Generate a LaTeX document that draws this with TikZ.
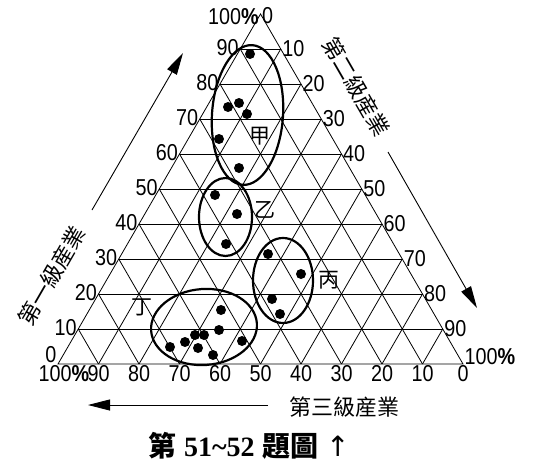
\documentclass[tikz,border=0pt]{standalone}
\usepackage{fontspec}
\setmainfont{Liberation Sans}
\newfontfamily\numf[FakeStretch=0.86]{Liberation Sans}
\newfontfamily\cjk{Noto Sans CJK TC}
\newfontfamily\capser{Liberation Serif}
\newfontfamily\arrowf{DejaVu Sans}
\usetikzlibrary{calc,arrows.meta}
\begin{document}
\begin{tikzpicture}[x=1pt,y=-1pt,
  grid/.style={line width=0.8pt},
  ring/.style={line width=2.2pt},
  dot/.style={circle,fill,inner sep=0pt,minimum size=10pt},
  num/.style={font=\numf\fontsize{23}{23}\selectfont, inner sep=1.5pt},
  axtitle/.style={font=\cjk\fontsize{22}{22}\selectfont, inner sep=0pt},
  zone/.style={font=\cjk\fontsize{21}{21}\selectfont, inner sep=0pt},
  axarrow/.style={line width=0.9pt,-{Triangle[length=22pt,width=11pt]}}]
\useasboundingbox (0,0) rectangle (535,460);
\coordinate (A) at (58,364);
\coordinate (B) at (463,364);
\coordinate (C) at (260.5,14);
% grid
\draw[grid] (A)--(B)--(C)--cycle;
\foreach \k in {1,...,9}{
  \pgfmathsetmacro\f{\k/10}
  \pgfmathsetmacro\g{1-\k/10}
  \draw[grid] ($(A)!\f!(C)$) -- ($(B)!\f!(C)$);
  \draw[grid] ($(A)!\f!(B)$) -- ($(B)!\g!(C)$);
  \draw[grid] ($(A)!\f!(B)$) -- ($(A)!\f!(C)$);
}
% left labels (primary)
\node[num,anchor=south east] (L0) at (A) {0};
\foreach \k in {1,...,9}{
  \pgfmathsetmacro\f{\k/10}
  \node[num,anchor=east,yshift=1.5pt] (L\k) at ($(A)!\f!(C)$) {\k0};
}
\node[num,anchor=east,yshift=-3pt] (L10) at (C) {100{\bfseries\%}};
% right labels (secondary)
\node[num,anchor=west,yshift=-2pt] (R0) at (C) {0};
\foreach \k in {1,...,9}{
  \pgfmathsetmacro\f{\k/10}
  \node[num,anchor=west] (R\k) at ($(C)!\f!(B)$) {\k0};
}
\node[num,anchor=west,yshift=7pt] (R10) at (B) {100{\bfseries\%}};
% bottom labels (tertiary)
\node[num,anchor=north] (B0) at (B) {0};
\foreach \k in {1,...,9}{
  \pgfmathsetmacro\f{\k/10}
  \node[num,anchor=north] (B\k) at ($(B)!\f!(A)$) {\k0};
}
\node[num,anchor=north,xshift=6pt] (B10) at (A) {100{\bfseries\%}};
% axis arrows
\coordinate (la1) at (92,210);
\coordinate (la2) at (183,53);
\coordinate (ra1) at (388,152);
\coordinate (ra2) at (477,308);
\coordinate (ba1) at (268,405);
\coordinate (ba2) at (88,405);
\draw[axarrow] (la1) -- (la2);
\draw[axarrow] (ra1) -- (ra2);
\draw[axarrow] (ba1) -- (ba2);
% axis titles
\node[axtitle,rotate=60] (t1) at (52,276) {第一級産業};
\node[axtitle,rotate=-60] (t2) at (356,87) {第二級産業};
\node[axtitle] (t3) at (344,407) {第三級産業};
% ellipses
\coordinate (e1) at (247.5,115);
\coordinate (e2) at (225.5,217);
\coordinate (e3) at (283,280.5);
\coordinate (e4) at (204,327);
\draw[ring,rotate around={-4:(e1)}] (e1) ellipse [x radius=35.5, y radius=70];
\draw[ring] (e2) ellipse [x radius=26.5, y radius=39];
\draw[ring] (e3) ellipse [x radius=30, y radius=42.5];
\draw[ring,rotate around={4:(e4)}] (e4) ellipse [x radius=53, y radius=38];
% zone labels
\node[zone] (z1) at (260,136) {甲};
\node[zone] (z2) at (265,210) {乙};
\node[zone] (z3) at (329,280) {丙};
\node[zone] (z4) at (142,307) {丁};
% dots
\node[dot] (d1) at (250,54) {};
\node[dot] (d2) at (228,107) {};
\node[dot] (d3) at (239,103) {};
\node[dot] (d4) at (247,114) {};
\node[dot] (d5) at (219,139) {};
\node[dot] (d6) at (239,168) {};
\node[dot] (d7) at (215,195) {};
\node[dot] (d8) at (237,214) {};
\node[dot] (d9) at (226,244) {};
\node[dot] (d10) at (268,254) {};
\node[dot] (d11) at (301,274) {};
\node[dot] (d12) at (272,299) {};
\node[dot] (d13) at (280,314) {};
\node[dot] (d14) at (170,347) {};
\node[dot] (d15) at (185,342) {};
\node[dot] (d16) at (195,335) {};
\node[dot] (d17) at (204,335) {};
\node[dot] (d18) at (198,348) {};
\node[dot] (d19) at (213,355) {};
\node[dot] (d20) at (219,330) {};
\node[dot] (d21) at (221,310) {};
\node[dot] (d22) at (242,341) {};
% caption
\node[inner sep=0pt,font=\fontsize{28}{28}\selectfont] (cap) at (249,446)
  {{\cjk\bfseries 第} {\capser\bfseries 51\textasciitilde52} {\cjk\bfseries 題圖} {\arrowf ↑}};
\end{tikzpicture}
\end{document}
